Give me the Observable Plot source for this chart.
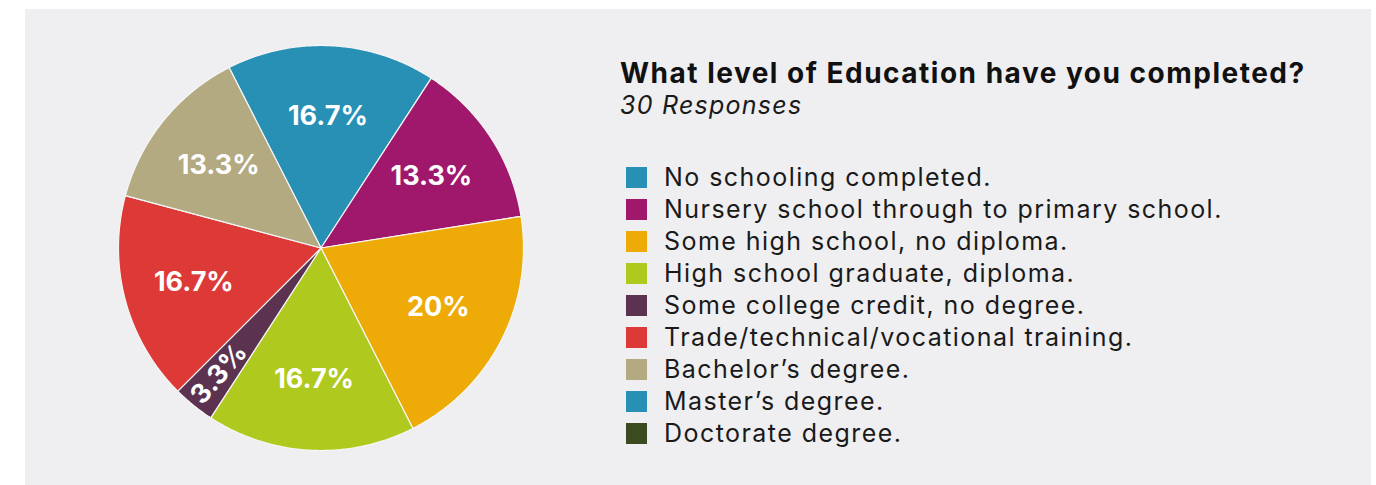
<!DOCTYPE html>
<html>
<head>
<meta charset="utf-8">
<script src="https://cdn.jsdelivr.net/npm/d3@7"></script>
<script src="https://cdn.jsdelivr.net/npm/@observablehq/plot@0.6"></script>
<style>
  html, body { margin: 0; padding: 0; background: #ffffff; }
  #wrap { position: relative; width: 1376px; height: 485px; overflow: hidden; font-family: Inter, "Noto Sans", sans-serif; }
  #panel { position: absolute; left: 25px; top: 9px; width: 1346px; height: 476px; background: #efeff1; }
  #chart { position: absolute; left: 0; top: 0; }
  #title { position: absolute; left: 620px; top: 59px; font-size: 28px; line-height: 28px; font-weight: 700; letter-spacing: 1.5px; color: #111; white-space: nowrap; }
  #subtitle { position: absolute; left: 620px; top: 93px; font-size: 25px; line-height: 25px; font-style: italic; letter-spacing: 1.25px; color: #1a1a1a; white-space: nowrap; }
  #legend { position: absolute; left: 626px; top: 161px; }
  .row { height: 32px; line-height: 32px; font-size: 25px; letter-spacing: 1.45px; display: flex; align-items: center; white-space: nowrap; color: #1a1a1a; }
  .sw { width: 21px; height: 21px; margin-right: 17px; flex: none; }
</style>
</head>
<body>
<div id="wrap">
  <div id="panel"></div>
  <div id="chart"></div>
  <div id="title"></div>
  <div id="subtitle"></div>
  <div id="legend"></div>
</div>
<script>
const titleText = "What level of Education have you completed?";
const subtitleText = "30 Responses";
const categories = [
  "No schooling completed.",
  "Nursery school through to primary school.",
  "Some high school, no diploma.",
  "High school graduate, diploma.",
  "Some college credit, no degree.",
  "Trade/technical/vocational training.",
  "Bachelor’s degree.",
  "Master’s degree.",
  "Doctorate degree."
];
const responses = [5, 4, 6, 5, 1, 5, 4, 0, 0];
const colors = ["#2790b4", "#a0186c", "#eeab08", "#afc91f", "#5b3250", "#dd3a37", "#b3aa82", "#2790b4", "#3b4a1f"];

const total = d3.sum(responses);
const data = categories.map((c, i) => ({label: c, value: responses[i]}));

const start = -27 * Math.PI / 180;
const arcs = d3.pie().sort(null).value(d => d.value).startAngle(start).endAngle(start + 2 * Math.PI)(data)
  .filter(a => a.value > 0);

// slice outlines in unit-circle coordinates
const slicePts = [];
for (const a of arcs) {
  const n = Math.max(2, Math.ceil((a.endAngle - a.startAngle) / (0.5 * Math.PI / 180)));
  slicePts.push({label: a.data.label, x: 0, y: 0});
  for (let k = 0; k <= n; k++) {
    const t = a.startAngle + (a.endAngle - a.startAngle) * k / n;
    slicePts.push({label: a.data.label, x: Math.sin(t), y: Math.cos(t)});
  }
  slicePts.push({label: a.data.label, x: 0, y: 0});
}

const fmt = v => (+(v / total * 100).toFixed(1)) + "%";
const labels = arcs.map(a => {
  const mid = (a.startAngle + a.endAngle) / 2;
  const small = a.value / total < 0.05;
  const rr = small ? 0.8 : 0.65;
  const midDeg = mid * 180 / Math.PI;
  return {
    text: fmt(a.value),
    x: rr * Math.sin(mid),
    y: rr * Math.cos(mid),
    rotate: small ? ((midDeg % 360) + 360) % 360 - 268 : 0
  };
});

const cx = 320.5, cy = 247.5, r = 202.5;
const plot = Plot.plot({
  width: 600,
  height: 485,
  margin: 0,
  style: {background: "transparent", overflow: "visible"},
  x: {domain: [-1, 1], range: [cx - r, cx + r], axis: null},
  y: {domain: [-1, 1], range: [cy + r, cy - r], axis: null},
  color: {domain: categories, range: colors},
  marks: [
    Plot.line(slicePts, {x: "x", y: "y", z: "label", fill: "label", stroke: "#f6f6f6", strokeWidth: 1.2, curve: "linear"}),
    Plot.text(labels, {x: "x", y: "y", text: "text", rotate: "rotate", fill: "white", fontSize: 27, fontWeight: 700, fontFamily: "Inter, 'Noto Sans', sans-serif"})
  ]
});
document.getElementById("chart").appendChild(plot);

document.getElementById("title").textContent = titleText;
document.getElementById("subtitle").textContent = subtitleText;
const legend = document.getElementById("legend");
categories.forEach((c, i) => {
  const row = document.createElement("div");
  row.className = "row";
  const sw = document.createElement("span");
  sw.className = "sw";
  sw.style.background = colors[i];
  const tx = document.createElement("span");
  tx.textContent = c;
  row.appendChild(sw);
  row.appendChild(tx);
  legend.appendChild(row);
});
</script>
</body>
</html>
